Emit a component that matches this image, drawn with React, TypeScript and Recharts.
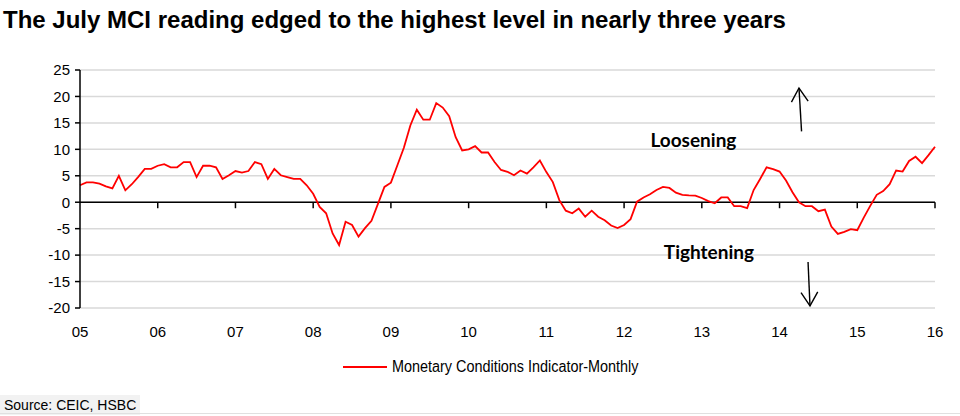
import React from 'react';
import {
  LineChart,
  Line,
  XAxis,
  YAxis,
  CartesianGrid,
  ReferenceLine,
  ReferenceDot,
} from 'recharts';

// x axis labels, one per January from 2005 to 2016
const yearLabels = ['05', '06', '07', '08', '09', '10', '11', '12', '13', '14', '15', '16'];
const yTicks = [-20, -15, -10, -5, 0, 5, 10, 15, 20, 25];

// Monetary Conditions Indicator, monthly, Jan 2005 onward
const mci = [
  3.2, 3.75, 3.75, 3.5, 3.0, 2.6, 5.0, 2.25, 3.4, 4.8, 6.3, 6.3,
  6.9, 7.2, 6.6, 6.6, 7.6, 7.6, 4.75, 6.9, 6.9, 6.6, 4.4, 5.1,
  5.9, 5.6, 5.9, 7.6, 7.2, 4.4, 6.3, 5.1, 4.75, 4.4, 4.4, 3.2,
  1.6, -0.9, -2.1, -5.9, -8.1, -3.7, -4.3, -6.5, -4.9, -3.5, -0.3, 2.9,
  3.7, 7.0, 10.3, 14.5, 17.5, 15.6, 15.6, 18.75, 17.9, 16.25, 12.3, 9.8,
  10.0, 10.6, 9.4, 9.4, 7.6, 6.1, 5.75, 5.1, 6.0, 5.4, 6.6, 7.9,
  5.7, 3.8, 0.4, -1.6, -2.1, -1.2, -2.75, -1.6, -2.75, -3.4, -4.4, -4.9,
  -4.3, -3.2, 0.1, 0.9, 1.5, 2.3, 2.9, 2.7, 1.8, 1.4, 1.3, 1.25,
  0.8, 0.2, -0.2, 0.9, 0.9, -0.75, -0.75, -1.1, 2.3, 4.4, 6.6, 6.25,
  5.8, 4.1, 1.9, 0.0, -0.75, -0.75, -1.7, -1.4, -4.6, -6.0, -5.6, -5.1,
  -5.3, -2.9, -0.7, 1.4, 2.1, 3.4, 6.0, 5.8, 7.8, 8.6, 7.4, 8.9,
  10.5,
];

// annotation arrows (month index, value), head at second point
const upArrow = [{ x: 111.4, y: 13.4 }, { x: 111.0, y: 21.6 }];
const downArrow = [{ x: 112.4, y: -11.3 }, { x: 112.7, y: -19.6 }];

const data = mci.map((v, i) => ({ m: i, v }));
const lastIdx = (yearLabels.length - 1) * 12;
const xTicks = yearLabels.map((_, i) => i * 12);

const sans = "'Liberation Sans', Arial, sans-serif";
const calib = "Lato, 'Open Sans', sans-serif";

const ZeroAxis = (props: any) => {
  const { x1, y1, x2 } = props;
  const n = yearLabels.length - 1;
  const ticks = [];
  for (let k = 1; k <= n; k++) {
    const x = x1 + ((x2 - x1) * k) / n;
    ticks.push(<line key={k} x1={x} y1={y1} x2={x} y2={y1 + 6} stroke="#000" strokeWidth={1.5} />);
  }
  return (
    <g>
      <line x1={x1} y1={y1} x2={x2} y2={y1} stroke="#000" strokeWidth={1.5} />
      {ticks}
    </g>
  );
};

const Arrow = (props: any) => {
  const { x1, y1, x2, y2 } = props;
  const ang = Math.atan2(y2 - y1, x2 - x1);
  const len = 16;
  const spread = 0.55;
  const ax = x2 - len * Math.cos(ang - spread);
  const ay = y2 - len * Math.sin(ang - spread);
  const bx = x2 - len * Math.cos(ang + spread);
  const by = y2 - len * Math.sin(ang + spread);
  return (
    <g>
      <line x1={x1} y1={y1} x2={x2} y2={y2} stroke="#000" strokeWidth={1.4} />
      <polyline points={`${ax},${ay} ${x2},${y2} ${bx},${by}`} fill="none" stroke="#000" strokeWidth={1.4} />
    </g>
  );
};

const App = () => {
  return (
    <div style={{ position: 'absolute', left: 0, top: 0, width: 960, height: 416, background: '#fff', overflow: 'hidden' }}>
      <div
        style={{
          position: 'absolute',
          left: 3,
          top: 6,
          fontFamily: sans,
          fontWeight: 700,
          fontSize: 24,
          color: '#000',
          whiteSpace: 'nowrap',
        }}
      >
        The July MCI reading edged to the highest level in nearly three years
      </div>

      <div style={{ position: 'absolute', left: 0, top: 0 }}>
        <LineChart width={960} height={345} data={data} margin={{ top: 70, right: 25, left: 40, bottom: 0 }}>
          <CartesianGrid vertical={false} stroke="#d9d9d9" strokeWidth={1.5} />
          <XAxis
            dataKey="m"
            type="number"
            domain={[0, lastIdx]}
            ticks={xTicks}
            tickFormatter={(v: number) => yearLabels[Math.round(v / 12)]}
            axisLine={false}
            tickLine={false}
            tickSize={0}
            tickMargin={18}
            height={37}
            interval={0}
            tick={{ fill: '#000', fontSize: 15, fontFamily: sans }}
          />
          <YAxis
            domain={[-20, 25]}
            ticks={yTicks}
            width={40}
            interval={0}
            axisLine={{ stroke: '#000', strokeWidth: 1.5 }}
            tickLine={{ stroke: '#000', strokeWidth: 1.5 }}
            tickSize={5}
            tickMargin={5}
            tick={{ fill: '#000', fontSize: 15, fontFamily: sans }}
          />
          <ReferenceLine y={0} shape={ZeroAxis} />
          <Line
            type="linear"
            dataKey="v"
            stroke="#ff0000"
            strokeWidth={1.8}
            dot={false}
            isAnimationActive={false}
          />
          <ReferenceLine segment={upArrow} shape={Arrow} />
          <ReferenceLine segment={downArrow} shape={Arrow} />
          <ReferenceDot
            x={94.7}
            y={11.7}
            r={0}
            fill="none"
            stroke="none"
            label={{ value: 'Loosening', position: 'center', fill: '#000', fontSize: 19, fontWeight: 700, fontFamily: calib }}
          />
          <ReferenceDot
            x={97.1}
            y={-9.5}
            r={0}
            fill="none"
            stroke="none"
            label={{ value: 'Tightening', position: 'center', fill: '#000', fontSize: 19, fontWeight: 700, fontFamily: calib }}
          />
        </LineChart>
      </div>

      <div style={{ position: 'absolute', left: 343, top: 358, display: 'flex', alignItems: 'center', height: 18 }}>
        <div style={{ width: 44, height: 2, background: '#ff0000', marginRight: 5 }} />
        <span
          style={{
            fontFamily: sans,
            fontSize: 16,
            color: '#000',
            whiteSpace: 'nowrap',
            display: 'inline-block',
            transform: 'scaleX(0.9)',
            transformOrigin: 'left center',
          }}
        >
          Monetary Conditions Indicator-Monthly
        </span>
      </div>

      <div
        style={{
          position: 'absolute',
          left: 0,
          top: 395,
          height: 20,
          padding: '0 4px',
          background: '#f2f2f2',
          fontFamily: sans,
          fontSize: 14,
          lineHeight: '20px',
          color: '#000',
          whiteSpace: 'nowrap',
        }}
      >
        Source: CEIC, HSBC
      </div>
      <div style={{ position: 'absolute', left: 0, top: 413, width: 960, height: 1, background: '#e0e0e0' }} />
    </div>
  );
};

export default App;
